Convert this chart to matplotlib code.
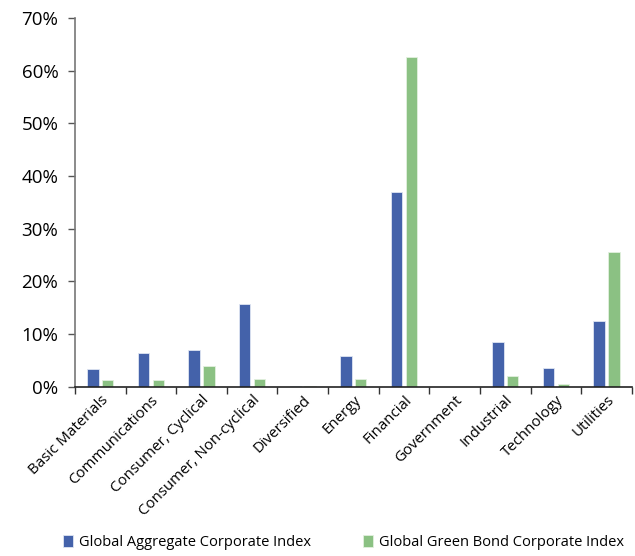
import numpy as np
import matplotlib
matplotlib.use("Agg")
import matplotlib.pyplot as plt
from matplotlib.ticker import PercentFormatter
plt.rcParams["font.family"] = "Open Sans"

sectors = ["Basic Materials", "Communications", "Consumer, Cyclical",
           "Consumer, Non-cyclical", "Diversified", "Energy", "Financial",
           "Government", "Industrial", "Technology", "Utilities"]
agg_corp = [3.4, 6.5, 7.1, 15.8, 0.15, 5.8, 36.9, 0.0, 8.6, 3.6, 12.5]
green_corp = [1.3, 1.3, 4.0, 1.45, 0.15, 1.45, 62.5, 0.0, 2.15, 0.6, 25.5]

blue = "#4462aa"
green = "#8bc183"

fig = plt.figure(figsize=(6.35, 5.56), dpi=100)
ax = fig.add_axes([0.118, 0.304, 0.877, 0.664])

x = np.arange(len(sectors))
w = 0.225
ax.bar(x - 0.145, agg_corp, w, color=blue, edgecolor="#dfe5f2", linewidth=0.6,
       label="Global Aggregate Corporate Index")
ax.bar(x + 0.145, green_corp, w, color=green, edgecolor="#e3f0df", linewidth=0.6,
       label="Global Green Bond Corporate Index")

ax.set_xlim(-0.5, len(sectors) - 0.5)
ax.set_ylim(0, 70)
ax.set_yticks(np.arange(0, 71, 10))
ax.yaxis.set_major_formatter(PercentFormatter(decimals=0))

# ticks sit between categories, labels under the bars
ax.set_xticks(np.arange(-0.5, len(sectors), 1))
ax.set_xticklabels([])
ax.set_xticks(x, minor=True)
ax.set_xticklabels(sectors, minor=True, rotation=45, ha="right",
                   rotation_mode="anchor", fontsize=10.8)
ax.tick_params(axis="x", which="minor", length=0, pad=4)
ax.tick_params(axis="x", which="major", length=5, width=1, color="#333333")
ax.tick_params(axis="y", length=5, width=1, color="#555555", labelsize=13.5, pad=7)

for s in ["top", "right"]:
    ax.spines[s].set_visible(False)
ax.spines["left"].set_color("#777777")
ax.spines["left"].set_linewidth(1.2)
ax.spines["bottom"].set_color("#222222")
ax.spines["bottom"].set_linewidth(1.2)

fig.legend(loc="center", bbox_to_anchor=(0.541, 0.025), ncol=2, frameon=False,
           fontsize=10.5, handlelength=0.7, handleheight=0.9, handletextpad=0.4,
           columnspacing=3.6)

plt.savefig("out.png", dpi=100)
